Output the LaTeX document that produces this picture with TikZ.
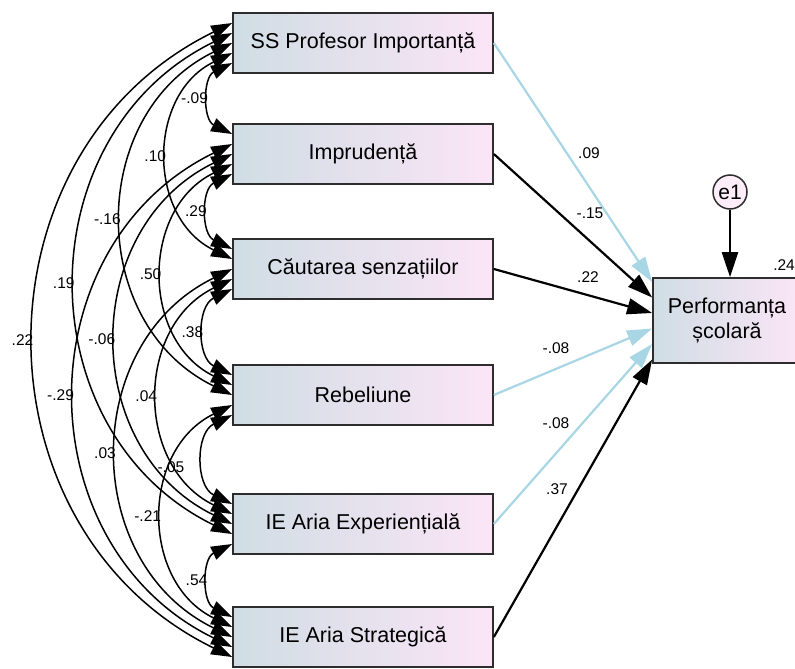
\documentclass[tikz,border=0pt]{standalone}
\usepackage{fontspec}
\setmainfont{Liberation Sans}
\usetikzlibrary{arrows.meta,calc}
\definecolor{boxleft}{RGB}{208,221,228}
\definecolor{boxright}{RGB}{251,229,247}
\definecolor{pathblue}{RGB}{168,214,228}
\definecolor{edge}{RGB}{45,45,45}
\begin{document}
\begin{tikzpicture}[x=1pt,y=-1pt,
  var/.style={draw=edge, line width=1.7pt, left color=boxleft, right color=boxright,
    minimum width=260pt, minimum height=60pt, inner sep=0pt,
    font=\fontsize{21.5}{25}\selectfont},
  cov/.style={line width=1.5pt,
    {Triangle[length=21pt,width=14pt]}-{Triangle[length=21pt,width=14pt]},
    bend right=64, looseness=1.18},
  coef/.style={font=\fontsize{15.5}{18}\selectfont, inner sep=1.5pt},
  regb/.style={line width=2.2pt, -{Triangle[length=25pt,width=16pt]}},
  regl/.style={line width=2.2pt, draw=pathblue, -{Triangle[length=25pt,width=16pt]}},
]
\useasboundingbox (0,0) rectangle (795,669);

% exogenous variables
\node[var] (v1) at (363,43)  {SS Profesor Importanță};
\node[var] (v2) at (363,154) {Imprudență};
\node[var] (v3) at (363,269) {Căutarea senzațiilor};
\node[var] (v4) at (363,395) {Rebeliune};
\node[var] (v5) at (363,524) {IE Aria Experiențială};
\node[var] (v6) at (363,637) {IE Aria Strategică};

% endogenous variable and its error term
\node[draw=edge, line width=1.7pt, left color=boxleft, right color=boxright,
  minimum width=148pt, minimum height=85pt, inner sep=0pt, align=center,
  font=\fontsize{21.5}{25}\selectfont] (perf) at (727,320.5) {Performanța\\școlară};
\node[circle, draw=edge, line width=1.5pt, fill=boxright!70!white, minimum size=34pt,
  inner sep=0pt, font=\fontsize{21}{24}\selectfont] (e1) at (730,192) {e1};
\node[coef, anchor=east, inner sep=0pt] (r2) at (795,265) {.24};

% attachment points of the covariance arcs on the left edges
\coordinate (a16) at ($(v1.west)+(0,-20)$);
\coordinate (a15) at ($(v1.west)+(0,-10)$);
\coordinate (a14) at ($(v1.west)+(0,0)$);
\coordinate (a13) at ($(v1.west)+(0,10)$);
\coordinate (a12) at ($(v1.west)+(0,20)$);
\coordinate (a21) at ($(v2.west)+(0,-20)$);
\coordinate (a26) at ($(v2.west)+(0,-10)$);
\coordinate (a25) at ($(v2.west)+(0,0)$);
\coordinate (a24) at ($(v2.west)+(0,10)$);
\coordinate (a23) at ($(v2.west)+(0,20)$);
\coordinate (a32) at ($(v3.west)+(0,-20)$);
\coordinate (a31) at ($(v3.west)+(0,-10)$);
\coordinate (a36) at ($(v3.west)+(0,0)$);
\coordinate (a35) at ($(v3.west)+(0,10)$);
\coordinate (a34) at ($(v3.west)+(0,20)$);
\coordinate (a43) at ($(v4.west)+(0,-20)$);
\coordinate (a42) at ($(v4.west)+(0,-10)$);
\coordinate (a41) at ($(v4.west)+(0,0)$);
\coordinate (a46) at ($(v4.west)+(0,10)$);
\coordinate (a45) at ($(v4.west)+(0,20)$);
\coordinate (a54) at ($(v5.west)+(0,-20)$);
\coordinate (a53) at ($(v5.west)+(0,-10)$);
\coordinate (a52) at ($(v5.west)+(0,0)$);
\coordinate (a51) at ($(v5.west)+(0,10)$);
\coordinate (a56) at ($(v5.west)+(0,20)$);
\coordinate (a65) at ($(v6.west)+(0,-20)$);
\coordinate (a64) at ($(v6.west)+(0,-10)$);
\coordinate (a63) at ($(v6.west)+(0,0)$);
\coordinate (a62) at ($(v6.west)+(0,10)$);
\coordinate (a61) at ($(v6.west)+(0,20)$);

% covariances
\draw[cov] (a12) to node[coef,left] (c12) {-.09} (a21);
\draw[cov] (a13) to node[coef,left] (c13) {.10} (a31);
\draw[cov] (a14) to node[coef,left] (c14) {-.16} (a41);
\draw[cov] (a15) to node[coef,left] (c15) {.19} (a51);
\draw[cov] (a16) to node[coef,left] (c16) {.22} (a61);
\draw[cov] (a23) to node[coef,left] (c23) {.29} (a32);
\draw[cov] (a24) to node[coef,left] (c24) {.50} (a42);
\draw[cov] (a25) to node[coef,left] (c25) {-.06} (a52);
\draw[cov] (a26) to node[coef,left] (c26) {-.29} (a62);
\draw[cov] (a34) to node[coef,left] (c34) {.38} (a43);
\draw[cov] (a35) to node[coef,left] (c35) {.04} (a53);
\draw[cov] (a36) to node[coef,left] (c36) {.03} (a63);
\draw[cov] (a45) to node[coef,left=18pt,yshift=-8pt] (c45) {-.05} (a54);
\draw[cov] (a46) to node[coef,left] (c46) {-.21} (a64);
\draw[cov] (a56) to node[coef,left] (c56) {.54} (a65);

% regression paths
\coordinate (t1) at ($(perf.west)+(0,-38.5)$);
\coordinate (t2) at ($(perf.west)+(0,-23)$);
\coordinate (t3) at ($(perf.west)+(0,-7.5)$);
\coordinate (t4) at ($(perf.west)+(0,8)$);
\coordinate (t5) at ($(perf.west)+(0,23.5)$);
\coordinate (t6) at ($(perf.west)+(0,39)$);
\draw[regl] (v1.east) -- (t1);
\draw[regb] (v2.east) -- (t2);
\draw[regb] (v3.east) -- (t3);
\draw[regl] (v4.east) -- (t4);
\draw[regl] (v5.east) -- (t5);
\draw[regb] (v6.east) -- (t6);
\draw[regb] (e1.south) -- (e1.south |- perf.north);

% path coefficients
\node[coef] (p1) at (589,153) {.09};
\node[coef] (p2) at (590,213) {-.15};
\node[coef] (p3) at (588,277) {.22};
\node[coef] (p4) at (556,348) {-.08};
\node[coef] (p5) at (556,423) {-.08};
\node[coef] (p6) at (557,489) {.37};
\end{tikzpicture}
\end{document}
